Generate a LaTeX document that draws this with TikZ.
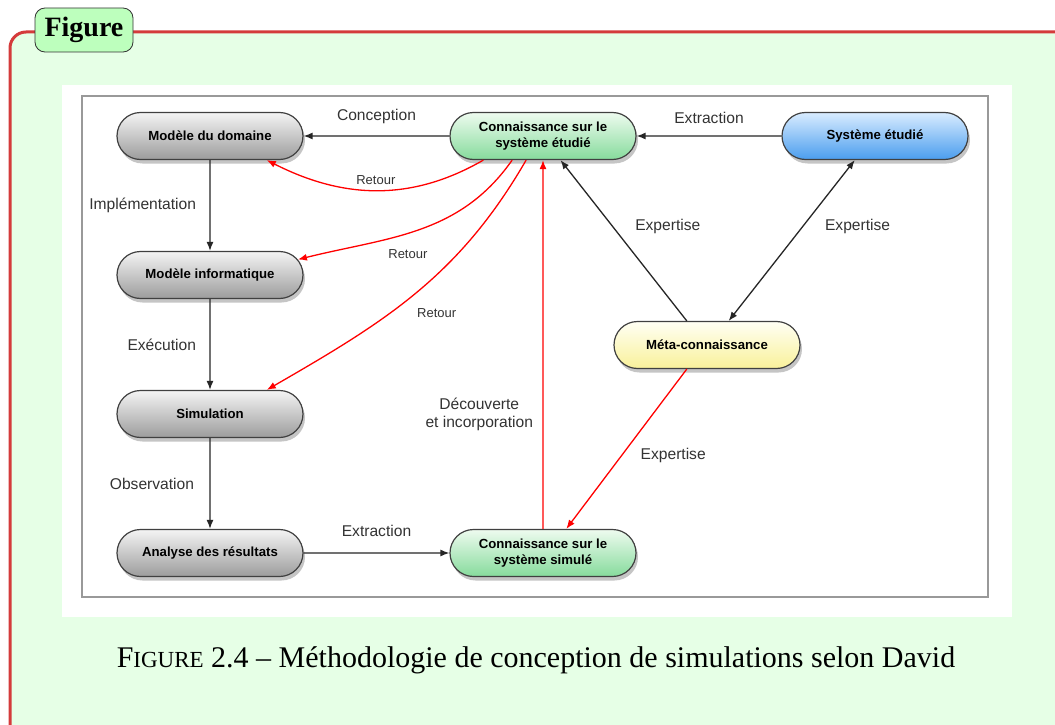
\documentclass[tikz,border=0pt]{standalone}
\usepackage{fontspec}
\setmainfont{Liberation Serif}
\setsansfont{Liberation Sans}
\usetikzlibrary{arrows.meta,positioning,shapes.misc,shadows}
\definecolor{cadrerouge}{HTML}{D43B3B}
\definecolor{fondvert}{HTML}{E6FFE6}
\definecolor{titrevert}{HTML}{BDFFBD}
\definecolor{grishaut}{HTML}{F4F4F4}
\definecolor{grisbas}{HTML}{9C9C9C}
\definecolor{verthaut}{HTML}{EEFBEF}
\definecolor{vertbas}{HTML}{86DB9C}
\definecolor{bleuhaut}{HTML}{D9ECFF}
\definecolor{bleubas}{HTML}{4A9DEE}
\definecolor{jaunehaut}{HTML}{FFFFF4}
\definecolor{jaunebas}{HTML}{F9F19A}
\tikzset{
>={Latex[width=7pt,length=9pt]},
	boite/.style={
		rounded rectangle,
		draw=black!75, line width=1.2pt,
		minimum width=190pt,
		minimum height=47pt,
		inner sep=2pt,
		align=center,
		font=\sffamily\bfseries\fontsize{13.2}{15.2}\selectfont,
		drop shadow={shadow xshift=2pt,shadow yshift=-4pt,opacity=0.45}},
	boitegris/.style={boite, top color=grishaut, bottom color=grisbas},
	boitevert/.style={boite, top color=verthaut, bottom color=vertbas},
	boitebleu/.style={boite, top color=bleuhaut, bottom color=bleubas},
	boitejaune/.style={boite, top color=jaunehaut, bottom color=jaunebas},
	fleche/.style={->, line width=1.3pt, draw=black!85},
	rouge/.style={->, line width=1.3pt, draw=red},
	etiq/.style={font=\sffamily\fontsize{15.6}{18.5}\selectfont, text=black!80},
	petit/.style={font=\sffamily\fontsize{13}{16}\selectfont, text=black!80},
	titre/.style={
		rectangle,
		rounded corners=10pt,
		draw=black!80, line width=0.8pt,
		fill=titrevert,
		minimum width=98pt,
		minimum height=44pt,
		font=\bfseries\fontsize{28}{30}\selectfont}
}
\begin{document}
\begin{tikzpicture}
[x=1pt, y=-1pt, node distance=139pt, on grid]
\useasboundingbox (0,0) rectangle (1055,725);
\clip (0,0) rectangle (1055,725);
% cadre de la figure
\draw[line width=3pt, draw=cadrerouge, fill=fondvert, rounded corners=16pt]
	(1090,32) -- (10,32) -- (10,770) -- (1090,770) -- cycle;
\node[titre] (titre) at (84,30) {Figure};
\fill[white] (62,85) rectangle (1012,617);
\draw[gray!80, line width=1.5pt] (82,96) rectangle (988,597);
% noeuds
\node[boitegris] (dom) at (210,136) {Modèle du domaine};
\node[boitevert, right=333pt of dom] (conn) {Connaissance sur le\\système étudié};
\node[boitebleu, right=332pt of conn] (sys) {Système étudié};
\node[boitegris, below=of dom] (info) {Modèle informatique};
\node[boitegris, below=of info] (simu) {Simulation};
\node[boitegris, below=of simu] (ana) {Analyse des résultats};
\node[boitevert, right=333pt of ana] (connsim) {Connaissance sur le\\système simulé};
\node[boitejaune, below right=209pt and 164pt of conn] (meta) {Méta-connaissance};
% liens
\draw[fleche] (conn) -- node[etiq, above=8pt]{Conception} (dom);
\draw[fleche] (sys) -- node[etiq, above=8pt]{Extraction} (conn);
\draw[fleche] (dom) -- node[etiq, left=10pt]{Implémentation} (info);
\draw[fleche] (info) -- node[etiq, left=10pt]{Exécution} (simu);
\draw[fleche] (simu) -- node[etiq, left=12pt]{Observation} (ana);
\draw[fleche] (ana) -- node[etiq, above=12pt]{Extraction} (connsim);
\draw[rouge] (connsim) -- node[etiq, pos=0.31, left=6pt, align=center]{Découverte\\et incorporation} (conn);
\draw[fleche] (meta.130) -- node[etiq, pos=0.59, right=19pt]{Expertise} (conn.-54);
\draw[fleche, <->] (meta.48) -- node[etiq, pos=0.59, right=18pt]{Expertise} (sys.230);
\draw[rouge] (meta.230) -- node[etiq, pos=0.54, right=15pt]{Expertise} (connsim.46);
% retours
\draw[rouge] (conn.202) to[out=210, in=-27] node[petit, above=2pt]{Retour} (dom.-23);
\draw[rouge] (conn.218) to[out=235, in=14] node[petit, pos=0.55, below=12pt]{Retour} (info.10);
\draw[rouge] (conn.235) to[out=240, in=30] node[petit, pos=0.6, right=24pt]{Retour} (simu.23);
% legende
\node (legende) at (536,660) {\fontsize{30}{34}\selectfont F{\fontsize{23}{34}\selectfont IGURE} 2.4 – Méthodologie de conception de simulations selon David};
\end{tikzpicture}
\end{document}
